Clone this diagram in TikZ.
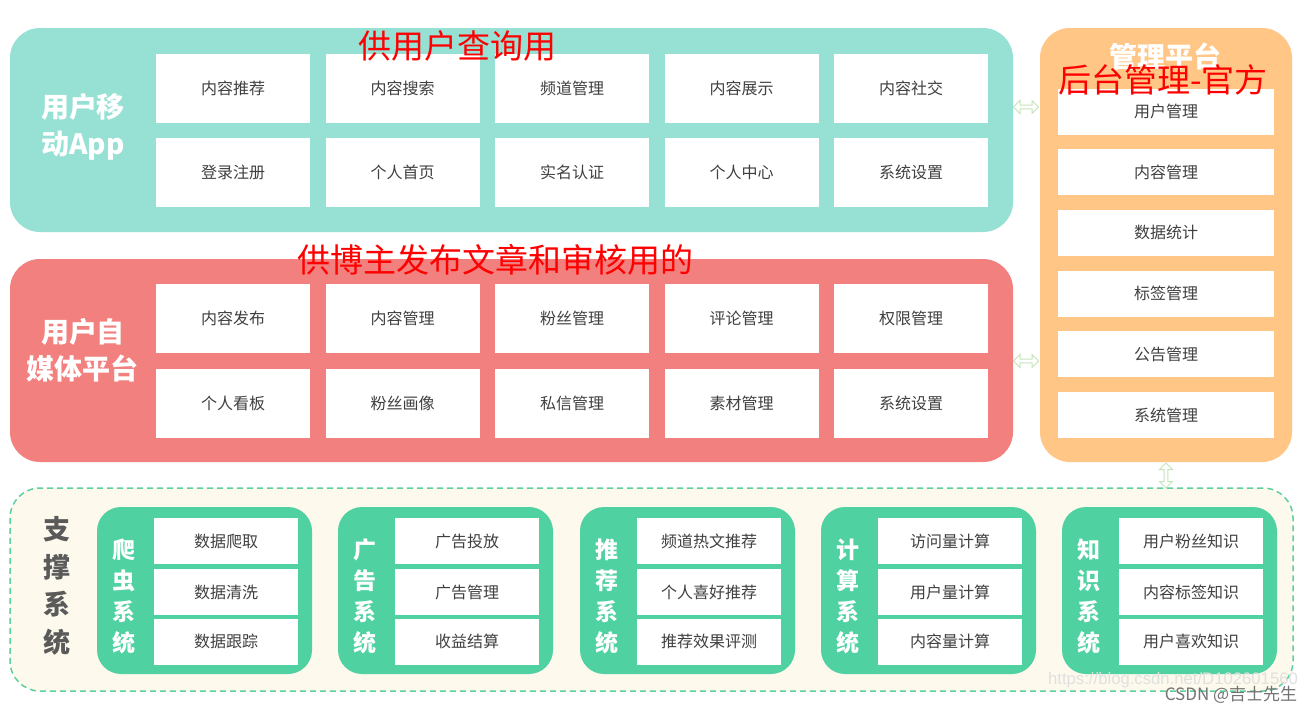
\documentclass[tikz,border=0pt]{standalone}
\usepackage{fontspec}
\setmainfont{Noto Sans CJK SC}
\newfontfamily\wmfont{Liberation Sans}
\usetikzlibrary{shapes.arrows}
\definecolor{appc}{RGB}{150,224,212}
\definecolor{medc}{RGB}{242,128,126}
\definecolor{admc}{RGB}{255,198,134}
\definecolor{supc}{RGB}{253,249,236}
\definecolor{grnc}{RGB}{79,209,161}
\definecolor{dashc}{RGB}{93,208,160}
\definecolor{arrc}{RGB}{196,228,186}
\definecolor{txtc}{RGB}{64,64,64}
\definecolor{supt}{RGB}{90,90,90}
\tikzset{
  panel/.style={rounded corners=30pt, inner sep=0pt},
  wbox/.style={fill=white, inner sep=0pt, text=txtc, font=\fontsize{16}{16}\selectfont},
  gridbox/.style={wbox, minimum width=154pt, minimum height=69pt},
  admbox/.style={wbox, minimum width=216pt, minimum height=46pt},
  sbox/.style={wbox, minimum width=144pt, minimum height=46pt},
  gpanel/.style={fill=grnc, rounded corners=24pt, minimum width=215pt, minimum height=167pt, inner sep=0pt},
  ptitle/.style={text=white, align=center, font=\fontsize{28}{37}\selectfont\bfseries, inner sep=0pt},
  vlab/.style={text=white, align=center, font=\fontsize{23}{31}\selectfont\bfseries, inner sep=0pt},
  note/.style={text=red, inner sep=0pt, font=\fontsize{33}{33}\selectfont},
  dblarrow/.style={shape=double arrow, draw=arrc, fill=white, line width=1pt,
     minimum height=25pt, minimum width=13pt, double arrow head extend=3.5pt, inner sep=1pt},
}
\newcommand{\mysys}[6]{%
  \node[gpanel] (#1) at ({#2+107.5},590.5) {};
  \node[vlab] (#1-l) at ({#2+27},596) {#3};
  \node[sbox] (#1-1) at ({#2+129},541) {#4};
  \node[sbox] (#1-2) at ({#2+129},592) {#5};
  \node[sbox] (#1-3) at ({#2+129},641.5) {#6};
}
\begin{document}
\begin{tikzpicture}[x=1pt, y=-1pt]
\useasboundingbox[fill=white] (0,0) rectangle (1315,713);

% user mobile app
\node[panel, fill=appc, minimum width=1003pt, minimum height=204pt] (app) at (511.5,130) {};
\node[ptitle] (appt) at (83,127) {用户移\\动App};
\foreach \t [count=\i from 0] in {内容推荐,内容搜索,频道管理,内容展示,内容社交}
  \node[gridbox] (a1-\i) at ({233+169.5*\i},88) {\t};
\foreach \t [count=\i from 0] in {登录注册,个人首页,实名认证,个人中心,系统设置}
  \node[gridbox] (a2-\i) at ({233+169.5*\i},172.5) {\t};

% media platform
\node[panel, fill=medc, minimum width=1003pt, minimum height=203pt] (med) at (511.5,360.5) {};
\node[ptitle] (medt) at (83,350) {用户自\\媒体平台};
\foreach \t [count=\i from 0] in {内容发布,内容管理,粉丝管理,评论管理,权限管理}
  \node[gridbox] (m1-\i) at ({233+169.5*\i},318) {\t};
\foreach \t [count=\i from 0] in {个人看板,粉丝画像,私信管理,素材管理,系统设置}
  \node[gridbox] (m2-\i) at ({233+169.5*\i},403) {\t};

% admin platform
\node[panel, fill=admc, minimum width=252pt, minimum height=434pt] (adm) at (1166,245) {};
\node[ptitle] (admt) at (1165,57) {管理平台};
\foreach \t [count=\i from 0] in {用户管理,内容管理,数据统计,标签管理,公告管理,系统管理}
  \node[admbox] (ad-\i) at (1166,{111.5+60.7*\i}) {\t};

% support system
\node[panel, fill=supc, draw=dashc, line width=1.5pt, dash pattern=on 6pt off 4pt,
      minimum width=1283pt, minimum height=203pt] (sup) at (651.5,589.5) {};
\node[text=supt, align=center, inner sep=0pt, font=\fontsize{27}{37.5}\selectfont\bfseries] (supt) at (57,586) {支\\撑\\系\\统};
\mysys{crawl}{97}{爬\\虫\\系\\统}{数据爬取}{数据清洗}{数据跟踪}
\mysys{ads}{338}{广\\告\\系\\统}{广告投放}{广告管理}{收益结算}
\mysys{rec}{580}{推\\荐\\系\\统}{频道热文推荐}{个人喜好推荐}{推荐效果评测}
\mysys{calc}{821}{计\\算\\系\\统}{访问量计算}{用户量计算}{内容量计算}
\mysys{know}{1062}{知\\识\\系\\统}{用户粉丝知识}{内容标签知识}{用户喜欢知识}

% connectors
\node[dblarrow] (arr1) at (1026,107) {};
\node[dblarrow] (arr2) at (1026,361) {};
\node[dblarrow, shape border rotate=90] (arr3) at (1166,475.5) {};

% annotations
\node[note] (n1) at (457,46) {供用户查询用};
\node[note] (n2) at (495,260) {供博主发布文章和审核用的};
\node[note] (n3) at (1163,80) {后台管理-官方};

% watermark
\node[text=black!12, inner sep=0pt, font=\wmfont\fontsize{16.7}{16.7}\selectfont] (wm1) at (1173,680) {https://blog.csdn.net/D102601560};
\node[text=black!55, inner sep=0pt, font=\fontsize{17}{17}\selectfont] (wm2) at (1231,695) {CSDN @吉士先生};
\end{tikzpicture}
\end{document}
